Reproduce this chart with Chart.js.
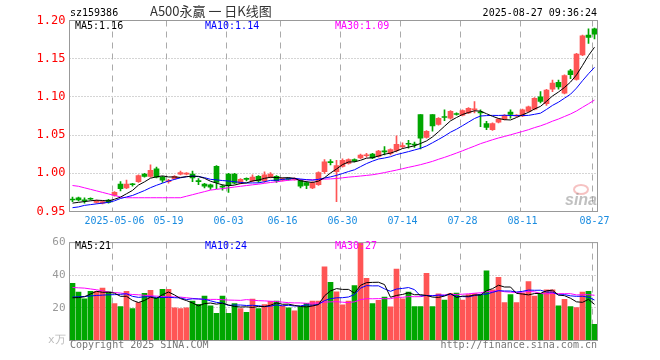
<!DOCTYPE html>
<html>
<head>
<meta charset="utf-8">
<script src="https://cdn.jsdelivr.net/npm/chart.js"></script>
<style>
    html, body { margin: 0; padding: 0; background: #fff; }
    #wrap { position: relative; width: 660px; height: 360px; overflow: hidden; font-family: "DejaVu Sans Mono", monospace; font-size: 10px; }
    #wrap canvas { position: absolute; left: 0; }
    .t { position: absolute; white-space: nowrap; line-height: 12px; }
</style>
</head>
<body>
<div id="wrap">
    <canvas id="kChart" width="660" height="232" style="top:0"></canvas>
    <canvas id="volChart" width="660" height="128" style="top:232px"></canvas>

    <div class="t" style="left:70px;top:7px;color:#000;">sz159386</div>
    <div class="t" style="left:150px;top:3px;font-family:'Noto Sans CJK SC';font-size:13px;line-height:15px;color:#333;">A500永赢 一 日K线图</div>
    <div class="t" style="right:63px;top:7px;color:#000;">2025-08-27 09:36:24</div>

    <div class="t" style="left:75px;top:20px;color:#000;">MA5:1.16</div>
    <div class="t" style="left:205px;top:20px;color:#0000ff;">MA10:1.14</div>
    <div class="t" style="left:335px;top:20px;color:#ff00ff;">MA30:1.09</div>

    <div class="t" style="left:75px;top:240px;color:#000;">MA5:21</div>
    <div class="t" style="left:205px;top:240px;color:#0000ff;">MA10:24</div>
    <div class="t" style="left:335px;top:240px;color:#ff00ff;">MA30:27</div>

    <div class="t" style="left:70px;top:339px;color:#777;">Copyright 2025 SINA.COM</div>
    <div class="t" style="right:63px;top:339px;color:#777;">http://finance.sina.com.cn</div>

    <div style="position:absolute;left:573px;top:184px;width:12px;height:7px;border:2px solid rgba(235,120,120,0.45);border-radius:50%;"></div>
    <div class="t" style="left:565px;top:192px;font:italic bold 16px 'Liberation Sans';line-height:16px;color:rgba(140,140,140,0.55);">sina</div>
</div>

<script>
// ==========================================
// DATA
// ==========================================
const dates = [
    '04-22','04-23','04-24','04-25','04-28','04-29','04-30','05-06','05-07','05-08',
    '05-09','05-12','05-13','05-14','05-15','05-16','05-19','05-20','05-21','05-22',
    '05-23','05-26','05-27','05-28','05-29','05-30','06-03','06-04','06-05','06-06',
    '06-09','06-10','06-11','06-12','06-13','06-16','06-17','06-18','06-19','06-20',
    '06-23','06-24','06-25','06-26','06-27','06-30','07-01','07-02','07-03','07-04',
    '07-07','07-08','07-09','07-10','07-11','07-14','07-15','07-16','07-17','07-18',
    '07-21','07-22','07-23','07-24','07-25','07-28','07-29','07-30','07-31','08-01',
    '08-04','08-05','08-06','08-07','08-08','08-11','08-12','08-13','08-14','08-15',
    '08-18','08-19','08-20','08-21','08-22','08-25','08-26','08-27'
];
const tickLabels = ['2025-05-06','05-19','06-03','06-16','06-30','07-14','07-28','08-11','08-27'];

const opens = [
    0.966,0.968,0.965,0.967,0.962,0.961,0.965,0.971,0.986,0.981,
    0.986,0.989,0.999,0.996,1.006,0.995,0.989,0.993,0.999,0.999,
    0.999,0.990,0.986,0.985,1.009,0.983,0.999,0.999,0.987,0.993,
    0.990,0.996,0.990,0.995,0.996,0.991,0.993,0.992,0.991,0.988,
    0.981,0.985,1.002,1.015,1.002,1.009,1.013,1.018,1.020,1.023,
    1.025,1.022,1.029,1.026,1.030,1.035,1.039,1.038,1.077,1.047,
    1.077,1.064,1.074,1.072,1.078,1.076,1.079,1.083,1.080,1.065,
    1.057,1.067,1.071,1.080,1.075,1.075,1.081,1.084,1.100,1.091,
    1.110,1.119,1.105,1.134,1.123,1.155,1.181,1.189
];
const highs = [
    0.969,0.969,0.968,0.968,0.965,0.964,0.966,0.976,0.989,0.991,
    0.987,0.998,1.000,1.011,1.008,0.996,0.992,0.997,1.003,1.001,
    1.003,0.993,0.987,0.986,1.010,0.985,1.000,1.000,0.993,0.994,
    0.998,0.997,1.002,1.001,0.997,0.994,0.994,0.994,0.992,0.989,
    0.989,1.002,1.018,1.018,1.017,1.019,1.019,1.019,1.025,1.026,
    1.026,1.030,1.035,1.032,1.049,1.040,1.043,1.041,1.077,1.056,
    1.077,1.073,1.083,1.082,1.079,1.083,1.086,1.094,1.083,1.068,
    1.066,1.072,1.077,1.083,1.077,1.084,1.088,1.099,1.107,1.110,
    1.122,1.122,1.129,1.136,1.157,1.181,1.189,1.190
];
const lows = [
    0.963,0.964,0.961,0.965,0.961,0.960,0.961,0.970,0.977,0.980,
    0.983,0.988,0.995,0.995,0.994,0.988,0.987,0.992,0.998,0.998,
    0.989,0.985,0.981,0.979,0.980,0.978,0.975,0.986,0.986,0.990,
    0.989,0.988,0.988,0.994,0.988,0.990,0.991,0.991,0.981,0.980,
    0.980,0.984,1.000,1.011,0.963,1.008,1.012,1.015,1.019,1.021,
    1.019,1.021,1.024,1.024,1.028,1.033,1.033,1.034,1.032,1.046,
    1.055,1.063,1.069,1.071,1.076,1.075,1.078,1.079,1.061,1.057,
    1.056,1.066,1.070,1.072,1.074,1.074,1.080,1.083,1.092,1.089,
    1.107,1.110,1.104,1.124,1.122,1.154,1.170,1.176
];
const closes = [
    0.965,0.965,0.964,0.966,0.964,0.963,0.962,0.975,0.980,0.986,
    0.985,0.997,0.996,1.004,0.995,0.991,0.990,0.996,1.001,1.000,
    0.994,0.989,0.983,0.982,0.988,0.982,0.984,0.987,0.992,0.992,
    0.995,0.990,0.998,0.999,0.990,0.993,0.992,0.993,0.983,0.984,
    0.988,1.001,1.015,1.014,1.010,1.017,1.018,1.016,1.024,1.024,
    1.020,1.029,1.028,1.031,1.038,1.036,1.038,1.037,1.046,1.055,
    1.062,1.072,1.073,1.081,1.077,1.082,1.085,1.084,1.079,1.060,
    1.065,1.071,1.076,1.077,1.076,1.083,1.087,1.098,1.094,1.109,
    1.118,1.113,1.128,1.129,1.156,1.180,1.178,1.182
];
// volume, x10k shares
const volumes = [
    35.1,29.6,25.6,30.2,30.2,32.1,29.8,22.6,20.8,30.2,
    19.6,23.2,28.9,30.8,26.2,31.3,31.3,20.0,19.6,20.0,
    24.2,22.2,27.2,21.2,16.6,27.2,16.6,22.6,19.6,17.2,
    25.4,19.6,22.0,24.0,24.2,21.2,20.0,18.2,20.6,22.8,
    24.2,24.2,45.1,35.7,29.8,21.8,24.2,33.7,59.5,38.1,
    22.6,24.6,26.6,20.6,43.7,25.6,29.6,20.8,20.8,41.1,
    20.8,28.6,24.8,28.7,29.1,24.8,28.2,28.7,28.2,42.7,
    31.1,38.7,23.2,28.2,23.2,29.1,36.1,27.2,28.7,31.1,
    31.1,21.2,25.2,20.8,20.2,29.6,30.2,9.9
];

// MA values at the left edge, where the window reaches back before the first candle
const ma5Head = [0.961,0.962,0.963,0.964];
const ma10Head = [0.955,0.956,0.958,0.959,0.960,0.961,0.962,0.964,0.967];
const ma30Head = [0.984,0.983,0.981,0.979,0.977,0.975,0.973,0.971,0.969,0.968,
                  0.968,0.968,0.968,0.968,0.968,0.968,0.968,0.968,0.968,0.970,
                  0.972,0.974,0.976,0.978,0.979,0.980,0.981,0.982,0.983];
const volMa5Head = [26.2,26.3,26.8,28.5];
const volMa10Head = [26.6,26.8,27.0,27.3,27.6,27.8,28.0,28.1,28.3];
const volMa30Head = [32.5,32.3,32.1,31.6,31.1,30.4,29.7,29.4,29.1,28.6,
                     28.2,28.0,27.7,27.4,27.2,27.0,26.8,26.7,26.6,26.2,
                     25.8,25.5,25.2,25.2,25.2,25.0,24.8,24.7,24.6];

// ==========================================
// HELPERS
// ==========================================
function movingAvg(src, n, head) {
    return src.map((v, i) => {
        if (i < n - 1) return head[i];
        let s = 0;
        for (let k = i - n + 1; k <= i; k++) s += src[k];
        return s / n;
    });
}

const MONO = '"DejaVu Sans Mono", monospace';
const RED = '#ff5555';
const GREEN = '#00a600';
const candleColor = closes.map((c, i) => c >= opens[i] ? RED : GREEN);
const markIdx = tickLabels.map(t => dates.indexOf(t.slice(-5)));

const lineSet = (data, color) => ({
    type: 'line', data: data, borderColor: color, borderWidth: 1,
    pointRadius: 0, tension: 0, fill: false, order: 0
});

// grid lines + frame of each panel
const panelGrid = {
    id: 'panelGrid',
    beforeDatasetsDraw(chart, args, opts) {
        const { ctx, chartArea: a, scales: { x, y } } = chart;
        ctx.save();
        ctx.lineWidth = 1;
        ctx.strokeStyle = '#aaa';
        ctx.setLineDash([1, 2]);
        opts.levels.forEach(v => {
            const py = Math.floor(y.getPixelForValue(v)) + 0.5;
            ctx.beginPath(); ctx.moveTo(a.left, py); ctx.lineTo(a.right, py); ctx.stroke();
        });
        ctx.setLineDash([6, 5]);
        markIdx.forEach(i => {
            const px = Math.round(x.getPixelForValue(i) - 2.5) + 0.5;
            ctx.beginPath(); ctx.moveTo(px, a.top); ctx.lineTo(px, a.bottom); ctx.stroke();
        });
        ctx.restore();
    },
    afterDatasetsDraw(chart) {
        const { ctx, chartArea: a } = chart;
        ctx.save();
        ctx.strokeStyle = '#999';
        ctx.lineWidth = 1;
        ctx.strokeRect(a.left, a.top, a.right - a.left, a.bottom - a.top);
        ctx.restore();
    }
};

const baseOpts = {
    responsive: false,
    animation: false,
    events: [],
    plugins: { legend: { display: false }, tooltip: { enabled: false } }
};

try {
    // ==========================================
    // 1. PRICE PANEL (candles + MA)
    // ==========================================
    new Chart(document.getElementById('kChart'), {
        type: 'bar',
        plugins: [panelGrid],
        data: {
            labels: dates,
            datasets: [
                lineSet(movingAvg(closes, 5, ma5Head), '#000000'),
                lineSet(movingAvg(closes, 10, ma10Head), '#0000ff'),
                lineSet(movingAvg(closes, 30, ma30Head), '#ff00ff'),
                {
                    data: lows.map((l, i) => [l, highs[i]]),
                    backgroundColor: candleColor,
                    barThickness: 1, grouped: false, minBarLength: 1, order: 2
                },
                {
                    data: opens.map((o, i) => [Math.min(o, closes[i]), Math.max(o, closes[i])]),
                    backgroundColor: candleColor,
                    barThickness: 5, grouped: false, minBarLength: 1, order: 1
                }
            ]
        },
        options: {
            ...baseOpts,
            layout: { padding: { top: 20.5, right: 62.5, left: 0, bottom: 0 } },
            plugins: { ...baseOpts.plugins, panelGrid: { levels: [1.15, 1.10, 1.05, 1.00] } },
            scales: {
                x: {
                    offset: true,
                    grid: { display: false, drawTicks: false },
                    border: { display: false },
                    ticks: {
                        autoSkip: false, maxRotation: 0, padding: 4,
                        color: '#1a8ce0', font: { family: MONO, size: 10 },
                        callback: (v, i) => {
                            const k = markIdx.indexOf(i);
                            return k >= 0 ? tickLabels[k] : '';
                        }
                    },
                    afterFit: s => { s.height = 20.5; }
                },
                y: {
                    min: 0.95, max: 1.2,
                    grid: { display: false, drawTicks: false },
                    border: { display: false },
                    ticks: {
                        stepSize: 0.05, padding: 4,
                        color: '#ff0000', font: { family: MONO, size: 12 },
                        callback: v => v.toFixed(2)
                    },
                    afterFit: s => { s.width = 69.5; }
                }
            }
        }
    });

    // ==========================================
    // 2. VOLUME PANEL
    // ==========================================
    new Chart(document.getElementById('volChart'), {
        type: 'bar',
        plugins: [panelGrid],
        data: {
            labels: dates,
            datasets: [
                lineSet(movingAvg(volumes, 5, volMa5Head), '#000000'),
                lineSet(movingAvg(volumes, 10, volMa10Head), '#0000ff'),
                lineSet(movingAvg(volumes, 30, volMa30Head), '#ff00ff'),
                {
                    data: volumes,
                    backgroundColor: candleColor,
                    barThickness: 5, order: 1
                }
            ]
        },
        options: {
            ...baseOpts,
            layout: { padding: { top: 8.5, right: 62.5, left: 0, bottom: 19.5 } },
            plugins: { ...baseOpts.plugins, panelGrid: { levels: [40, 20] } },
            scales: {
                x: { display: false, offset: true },
                y: {
                    min: 0, max: 60,
                    grid: { display: false, drawTicks: false },
                    border: { display: false },
                    ticks: {
                        stepSize: 20, padding: 4,
                        color: c => c.tick && c.tick.value === 0 ? '#bbb' : '#999',
                        font: { family: MONO, size: 11 },
                        callback: v => v === 0 ? 'x万' : v
                    },
                    afterFit: s => { s.width = 69.5; }
                }
            }
        }
    });
} catch (error) {
    console.error('chart error:', error);
}
</script>
</body>
</html>
